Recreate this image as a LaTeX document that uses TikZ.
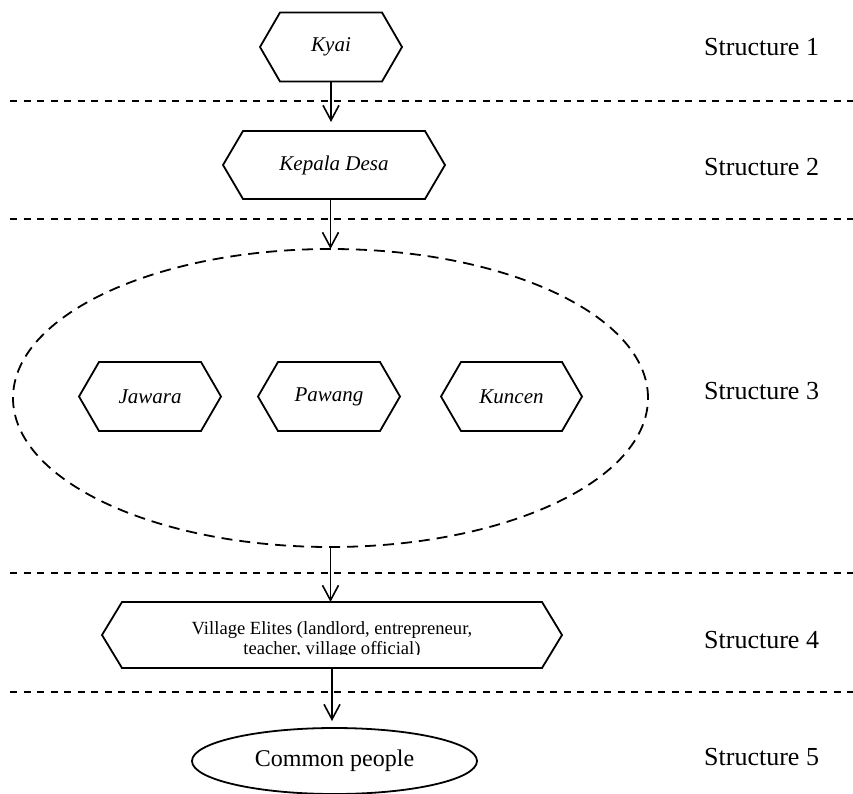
\documentclass[tikz,border=0pt]{standalone}
\usepackage{fontspec}
\setmainfont{Liberation Serif}
\usetikzlibrary{arrows.meta,shapes.geometric}
\begin{document}
\begin{tikzpicture}[x=1pt,y=-1pt,
  hexbox/.style={minimum height=69pt, inner sep=0pt, outer sep=0pt,
    font=\fontsize{21}{25}\selectfont\itshape},
  hexline/.style={line width=1.8pt, line join=miter},
  sep/.style={line width=1.8pt, dash pattern=on 7pt off 6.5pt},
  flow/.style={line width=1.6pt, -{Straight Barb[length=15pt,width=16pt]}},
  level/.style={anchor=west, inner sep=0pt, font=\fontsize{26}{30}\selectfont},
  eltext/.style={anchor=base, inner sep=0pt, font=\fontsize{18.6}{20}\selectfont},
]
\useasboundingbox (0,0) rectangle (853,793);

% level separators
\foreach \y in {101,219,573,692}
  \draw[sep] (10,\y) -- (853,\y);

% hierarchy nodes
\node[hexbox, minimum width=142pt] (kyai) at (331,47) {Kyai};
\node[hexbox, minimum width=222pt, minimum height=68pt] (kepala) at (334,165) {Kepala Desa};
\node[ellipse, draw, line width=1.8pt, dash pattern=on 11pt off 7pt,
      minimum width=635pt, minimum height=298pt, inner sep=0pt, outer sep=0pt] (group) at (330.5,398) {};
\node[hexbox, minimum width=142pt] (jawara) at (150,396.5) {Jawara};
\node[hexbox, minimum width=142pt] (pawang) at (329,396.5) {Pawang};
\node[hexbox, minimum width=141pt] (kuncen) at (511.5,396.5) {Kuncen};
\node[hexbox, minimum width=460pt, minimum height=66pt] (elites) at (332,635) {};
\node[ellipse, draw, line width=1.8pt, minimum width=285pt, minimum height=66pt,
      inner sep=0pt, outer sep=0pt, font=\fontsize{24}{28}\selectfont] (commons) at (334.5,761) {Common people};

% hexagon outlines
\foreach \n in {kyai,kepala,jawara,pawang,kuncen,elites}
  \draw[hexline] (\n.west) -- ([xshift=20pt]\n.north west) -- ([xshift=-20pt]\n.north east)
    -- (\n.east) -- ([xshift=-20pt]\n.south east) -- ([xshift=20pt]\n.south west) -- cycle;

% elites caption, cut off at the bottom
\begin{scope}
  \clip (100,600) rectangle (565,654.5);
  \node[eltext] (elites1) at (332,634) {Village Elites (landlord, entrepreneur,};
  \node[eltext] (elites2) at (332,654) {teacher, village official)};
\end{scope}

% connectors
\draw[flow] (kyai.south) -- ([yshift=9pt]kyai.south |- kepala.north);
\draw[flow] (group.north |- kepala.south) -- (group.north);
\draw[flow] (group.south) -- (group.south |- elites.north);
\draw[flow] (elites.south) -- ([yshift=7pt]elites.south |- commons.north);

% level labels
\node[level] (s1) at (704,47) {Structure 1};
\node[level] (s2) at (704,167) {Structure 2};
\node[level] (s3) at (704,391) {Structure 3};
\node[level] (s4) at (704,640) {Structure 4};
\node[level] (s5) at (704,757) {Structure 5};
\end{tikzpicture}
\end{document}
